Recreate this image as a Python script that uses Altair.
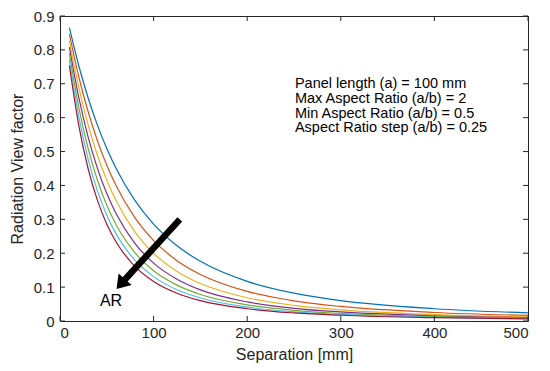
import altair as alt
import pandas as pd

# ---- data ----
separation = [10, 20, 30, 40, 50, 60, 80, 100, 125, 150, 200, 250, 300, 400, 500]
aspect_ratios = ["0.5", "0.75", "1", "1.25", "1.5", "1.75", "2"]

vf_ar_0_50 = [0.8655, 0.7539, 0.6588, 0.5779, 0.5089, 0.4500, 0.3559, 0.2858, 0.2219, 0.1760, 0.1168, 0.0820, 0.0600, 0.0362, 0.0239]
vf_ar_0_75 = [0.8463, 0.7215, 0.6181, 0.5319, 0.4597, 0.3990, 0.3048, 0.2374, 0.1781, 0.1372, 0.0872, 0.0595, 0.0429, 0.0251, 0.0164]
vf_ar_1_00 = [0.8270, 0.6902, 0.5795, 0.4892, 0.4153, 0.3546, 0.2631, 0.1998, 0.1463, 0.1106, 0.0686, 0.0461, 0.0330, 0.0191, 0.0124]
vf_ar_1_25 = [0.8081, 0.6603, 0.5433, 0.4504, 0.3760, 0.3163, 0.2291, 0.1708, 0.1232, 0.0917, 0.0562, 0.0375, 0.0267, 0.0154, 0.0100]
vf_ar_1_50 = [0.7895, 0.6314, 0.5097, 0.4153, 0.3417, 0.2839, 0.2017, 0.1483, 0.1059, 0.0782, 0.0475, 0.0316, 0.0224, 0.0129, 0.0083]
vf_ar_1_75 = [0.7714, 0.6040, 0.4787, 0.3840, 0.3118, 0.2564, 0.1794, 0.1309, 0.0921, 0.0680, 0.0411, 0.0272, 0.0193, 0.0111, 0.0072]
vf_ar_2_00 = [0.7539, 0.5779, 0.4500, 0.3559, 0.2858, 0.2331, 0.1612, 0.1168, 0.0820, 0.0600, 0.0362, 0.0239, 0.0169, 0.0097, 0.0063]
series = [vf_ar_0_50, vf_ar_0_75, vf_ar_1_00, vf_ar_1_25, vf_ar_1_50, vf_ar_1_75, vf_ar_2_00]

colors = ["#0072BD", "#D95319", "#EDB120", "#7E2F8E", "#77AC30", "#4DBEEE", "#A2142F"]

x_ticks = [0, 100, 200, 300, 400, 500]
y_ticks = [0, 0.1, 0.2, 0.3, 0.4, 0.5, 0.6, 0.7, 0.8, 0.9]

note_lines = [
    "Panel length (a) = 100 mm",
    "Max Aspect Ratio (a/b) = 2",
    "Min Aspect Ratio (a/b) = 0.5",
    "Aspect Ratio step (a/b) = 0.25",
]
note_pos = [251, 0.698]
arrow_tail = [128.0, 0.300]
arrow_head = [66.5, 0.1135]
ar_label_pos = [54.5, 0.060]

# ---- build tables ----
rows = []
for ar, vals in zip(aspect_ratios, series):
    for s, v in zip(separation, vals):
        rows.append({"sep": s, "vf": v, "ar": ar})
df = pd.DataFrame(rows)

W, H = 468, 305
AX = "#262626"
FONT = "Liberation Sans"

x_scale = alt.Scale(domain=[0, 500], nice=False, zero=False)
y_scale = alt.Scale(domain=[0, 0.9], nice=False, zero=False)


def xenc(field="sep"):
    return alt.X(f"{field}:Q", scale=x_scale,
                 axis=alt.Axis(values=x_ticks, title="Separation [mm]", labelPadding=4,
                               titlePadding=6))


def yenc(field="vf"):
    return alt.Y(f"{field}:Q", scale=y_scale,
                 axis=alt.Axis(values=y_ticks, title="Radiation View factor", labelPadding=6,
                               titlePadding=8,
                               labelExpr="datum.value == 0 ? '0' : format(datum.value, '.1f')"))


lines = alt.Chart(df).mark_line(strokeWidth=1.2, interpolate="monotone", clip=True).encode(
    x=xenc(),
    y=yenc(),
    color=alt.Color("ar:N", scale=alt.Scale(domain=aspect_ratios, range=colors), legend=None),
)

xt = pd.DataFrame({"sep": x_ticks})
yt = pd.DataFrame({"vf": y_ticks})
tick_len = 5
bottom_ticks = alt.Chart(xt).mark_rule(color=AX, strokeWidth=1).encode(
    x=xenc(), y=alt.value(H), y2=alt.value(H - tick_len))
top_ticks = alt.Chart(xt).mark_rule(color=AX, strokeWidth=1).encode(
    x=xenc(), y=alt.value(0), y2=alt.value(tick_len))
left_ticks = alt.Chart(yt).mark_rule(color=AX, strokeWidth=1).encode(
    y=yenc(), x=alt.value(0), x2=alt.value(tick_len))
right_ticks = alt.Chart(yt).mark_rule(color=AX, strokeWidth=1).encode(
    y=yenc(), x=alt.value(W), x2=alt.value(W - tick_len))

arrow_df = pd.DataFrame({"sep": [arrow_tail[0]], "vf": [arrow_tail[1]],
                         "sep2": [arrow_head[0]], "vf2": [arrow_head[1]]})
arrow_line = alt.Chart(arrow_df).mark_rule(color="black", strokeWidth=6.5).encode(
    x=xenc(), y=yenc(), x2="sep2:Q", y2="vf2:Q")

head_df = pd.DataFrame({"sep": [arrow_head[0]], "vf": [arrow_head[1]]})
arrow_tip = alt.Chart(head_df).mark_point(
    shape="M0,-1L1,0.5L-1,0.5Z", filled=True, color="black", opacity=1,
    size=300, angle=221, strokeWidth=0).encode(x=xenc(), y=yenc())

ar_df = pd.DataFrame({"sep": [ar_label_pos[0]], "vf": [ar_label_pos[1]]})
ar_text = alt.Chart(ar_df).mark_text(text="AR", font=FONT, fontSize=16, color="black",
                                     align="center", baseline="middle").encode(x=xenc(), y=yenc())

note_df = pd.DataFrame({"sep": [note_pos[0]], "vf": [note_pos[1]]})
note = alt.Chart(note_df).mark_text(font=FONT, fontSize=14.5, color="black", align="left",
                                    baseline="middle", lineHeight=14.6).encode(
    x=xenc(), y=yenc(), text=alt.value(note_lines))

chart = alt.layer(lines, bottom_ticks, top_ticks, left_ticks, right_ticks,
                  arrow_line, arrow_tip, ar_text, note).properties(
    width=W, height=H,
    autosize=alt.AutoSizeParams(type="none"),
    padding={"left": 52, "top": 8, "right": 14, "bottom": 42},
).configure_view(stroke=AX, strokeWidth=1).configure_axis(
    domain=False, ticks=False, tickSize=0, grid=False,
    labelFont=FONT, labelFontSize=15, labelColor=AX,
    titleFont=FONT, titleFontSize=16, titleColor=AX, titleFontWeight="normal",
)

chart.save("out.html", embed_options={"renderer": "svg", "actions": False})
